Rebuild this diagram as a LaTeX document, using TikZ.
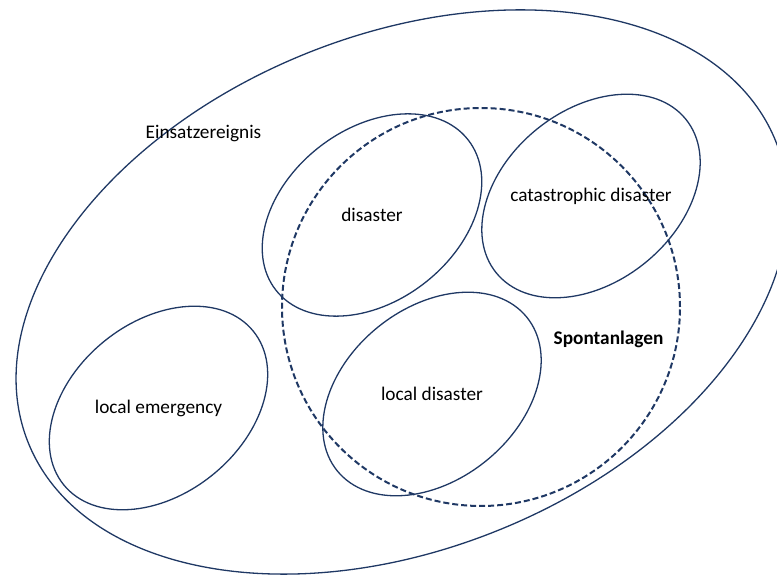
\documentclass[tikz,border=0pt]{standalone}
\usepackage{fontspec}
\setmainfont{Carlito}
\begin{document}
\begin{tikzpicture}[x=1pt,y=1pt,
  set/.style={draw=navy, line width=1.3pt},
  scope set/.style={draw=navy, line width=2pt, dash pattern=on 6pt off 3pt},
  label text/.style={font=\fontsize{19.3}{23}\selectfont, text=black, inner sep=0pt}]
\definecolor{navy}{HTML}{1F3864}
\useasboundingbox (0,0) rectangle (777,575);
\clip (0,0) rectangle (777,575);

% centres of the sets
\coordinate (cE) at (402,283);
\coordinate (cS) at (481,268);
\coordinate (cD) at (372,360);
\coordinate (cC) at (591,379);
\coordinate (cL) at (432,181);
\coordinate (cM) at (158.5,167);

% outer set of all incidents
\draw[set, rotate around={22:(cE)}] (cE) ellipse [x radius=403, y radius=257];

% dashed set of spontaneous situations
\draw[scope set] (cS) circle [radius=199];

% event classes
\draw[set, rotate around={38:(cD)}] (cD) ellipse [x radius=122, y radius=86];
\draw[set, rotate around={39:(cC)}] (cC) ellipse [x radius=122, y radius=86];
\draw[set, rotate around={39:(cL)}] (cL) ellipse [x radius=122, y radius=86];
\draw[set, rotate around={39:(cM)}] (cM) ellipse [x radius=122, y radius=86];

% labels
\node[label text] (tE) at (203.5,441) {Einsatzereignis};
\node[label text] (tD) at (cD) {disaster};
\node[label text] (tC) at (cC) {catastrophic disaster};
\node[label text] (tL) at (cL) {local disaster};
\node[label text] (tM) at (cM) {local emergency};
\node[label text, font=\fontsize{19.3}{23}\selectfont\bfseries] (tS) at (608.5,236) {Spontanlagen};
\end{tikzpicture}
\end{document}
